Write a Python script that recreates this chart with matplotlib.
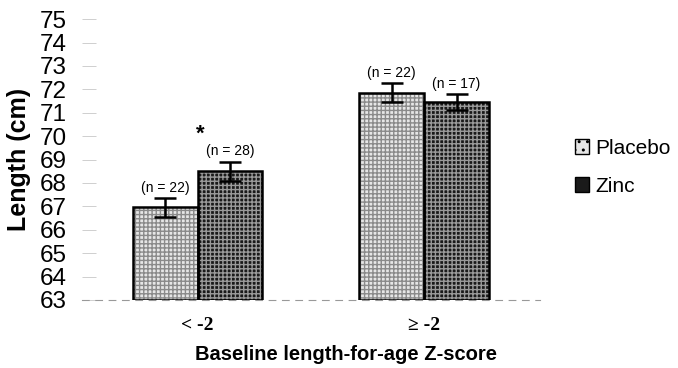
import matplotlib
matplotlib.use("Agg")
import matplotlib.pyplot as plt
import numpy as np
from matplotlib.patches import Patch

plt.rcParams["font.family"] = ["Liberation Sans", "DejaVu Sans"]

groups = ["< -2", "≥ -2"]
placebo_mean = [66.95, 71.85]
placebo_err = [0.4, 0.4]
zinc_mean = [68.5, 71.45]
zinc_err = [0.4, 0.35]
placebo_n = ["(n = 22)", "(n = 22)"]
zinc_n = ["(n = 28)", "(n = 17)"]
y_ticks = list(range(63, 76))

fig = plt.figure(figsize=(6.78, 3.68), dpi=100)
ax = fig.add_axes([0.121, 0.185, 0.675, 0.763])

x = np.arange(len(groups))
w = 0.286
ymin = 63

# fill + hatch layer, then outline on top
ax.bar(x - w / 2, np.array(placebo_mean) - ymin, w, bottom=ymin,
       color="#e6e6e6", edgecolor="#8a8a8a", hatch="++++", linewidth=0, zorder=2)
ax.bar(x + w / 2, np.array(zinc_mean) - ymin, w, bottom=ymin,
       color="#1a1a1a", edgecolor="#9a9a9a", hatch="++++", linewidth=0, zorder=2)
ax.bar(x - w / 2, np.array(placebo_mean) - ymin, w, bottom=ymin,
       fill=False, edgecolor="black", linewidth=1.8, zorder=3)
ax.bar(x + w / 2, np.array(zinc_mean) - ymin, w, bottom=ymin,
       fill=False, edgecolor="black", linewidth=1.8, zorder=3)

ax.errorbar(x - w / 2, placebo_mean, yerr=placebo_err, fmt="none", ecolor="black",
            elinewidth=1.8, capsize=8, capthick=1.8, zorder=4)
ax.errorbar(x + w / 2, zinc_mean, yerr=zinc_err, fmt="none", ecolor="black",
            elinewidth=1.8, capsize=8, capthick=1.8, zorder=4)

for i in range(len(groups)):
    ax.text(x[i] - w / 2, placebo_mean[i] + placebo_err[i] + 0.15, placebo_n[i],
            ha="center", va="bottom", fontsize=10)
    ax.text(x[i] + w / 2, zinc_mean[i] + zinc_err[i] + 0.15, zinc_n[i],
            ha="center", va="bottom", fontsize=10)
ax.text(x[0] + 0.01, zinc_mean[0] + zinc_err[0] + 0.75, "*", ha="center", va="bottom",
        fontsize=16, fontweight="bold")

ax.set_xlim(-0.51, 1.51)
ax.set_ylim(63, 75)
ax.set_yticks(y_ticks)
ax.set_yticklabels([str(t) for t in y_ticks], fontsize=17.5)
ax.tick_params(axis="y", direction="in", length=10, width=0.6, color="#c8c8c8", pad=11)
ax.set_xticks(x)
ax.set_xticklabels(groups, fontsize=14, fontweight="bold", family="Liberation Serif")
ax.tick_params(axis="x", length=0, pad=12)

for s in ["top", "right", "left"]:
    ax.spines[s].set_visible(False)
ax.spines["bottom"].set_linestyle((0, (6, 6)))
ax.spines["bottom"].set_color("#999999")
ax.spines["bottom"].set_linewidth(0.8)

ax.set_ylabel("Length (cm)", fontsize=18, fontweight="bold", labelpad=6)
fig.text(0.51, 1 - 355 / 368, "Baseline length-for-age Z-score", ha="center", va="center",
         fontsize=14.5, fontweight="bold")

handles = [Patch(facecolor="#e6e6e6", edgecolor="black", hatch="..", label="Placebo"),
           Patch(facecolor="#1a1a1a", edgecolor="black", label="Zinc")]
fig.legend(handles=handles, loc="center left", bbox_to_anchor=(0.82, 0.545), frameon=False,
           fontsize=15, handlelength=0.7, handleheight=0.7, handletextpad=0.3, labelspacing=0.9)

fig.savefig("out.png", dpi=100)
